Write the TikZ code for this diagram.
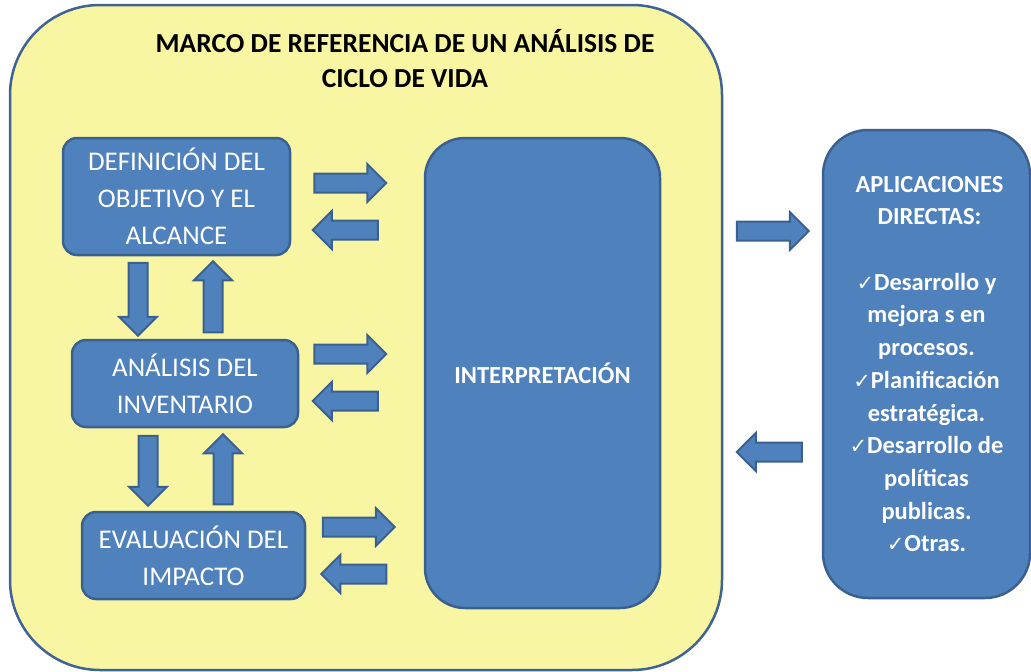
\documentclass[tikz,border=0pt]{standalone}
\usepackage{fontspec}
\setmainfont{Carlito}
\newfontfamily\checkfont{DejaVu Sans}
\usetikzlibrary{shapes.arrows}
\definecolor{marcofill}{HTML}{F9F6A3}
\definecolor{marcoline}{HTML}{3F6493}
\definecolor{boxfill}{HTML}{4F81BD}
\definecolor{boxline}{HTML}{3A6090}
\tikzstyle{marco}=[rectangle,rounded corners=90pt,draw=marcoline,line width=2.5pt,fill=marcofill,minimum width=712pt,minimum height=665pt]
\tikzstyle{etapa}=[rectangle,rounded corners=14pt,draw=boxline,line width=2.5pt,fill=boxfill,text=white,align=center,inner sep=0pt,font=\fontsize{27}{37}\selectfont]
\tikzstyle{flecha}=[single arrow,draw=boxline,fill=boxfill,line width=2pt,inner xsep=0pt,inner ysep=8.5pt,single arrow head extend=9.5pt,single arrow head indent=0pt]
\newcommand{\visto}{{\checkfont\fontsize{21}{21}\selectfont ✓}}

\begin{document}
\begin{tikzpicture}[x=1pt,y=-1pt]
\useasboundingbox (0,0) rectangle (1031,672);
\node[marco] at (366,337.5) (marco) {};
\node[align=center,font=\bfseries\fontsize{27.5}{35}\selectfont] at (405,59) (titulo) {MARCO DE REFERENCIA DE UN ANÁLISIS DE\\CICLO DE VIDA};
\node[etapa, minimum width=227pt, minimum height=117pt] at (176.5,196.5) (obj) {DEFINICIÓN DEL\\OBJETIVO Y EL\\ALCANCE};
\node[etapa, minimum width=226pt, minimum height=87pt] at (185,383.5) (inv) {ANÁLISIS DEL\\INVENTARIO};
\node[etapa, minimum width=223pt, minimum height=87pt] at (193.5,555.5) (imp) {EVALUACIÓN DEL\\IMPACTO};
\node[etapa, rounded corners=40pt, font=\bfseries\fontsize{24.5}{30}\selectfont, minimum width=235pt, minimum height=470pt] at (542.5,373) (interp) {INTERPRETACIÓN};
\node[etapa, rounded corners=45pt, font=\bfseries\fontsize{24.5}{32.7}\selectfont, minimum width=207pt, minimum height=468pt] at (926.5,364) (apl) {\hspace*{6pt}APLICACIONES\\\hspace*{6pt}DIRECTAS:\\[32.7pt]\visto Desarrollo y\\mejora s en\\procesos.\\\visto Planificación\\estratégica.\\\visto Desarrollo de\\políticas\\publicas.\\\visto Otras.};
\node[flecha, minimum height=72pt] at (345.5,183) (f1) {};
\node[flecha, minimum height=65pt, rotate=180] at (350,230) (g1) {};
\node[flecha, minimum height=72pt] at (345.5,354) (f2) {};
\node[flecha, minimum height=65pt, rotate=180] at (350,401) (g2) {};
\node[flecha, minimum height=72pt] at (354,527) (f3) {};
\node[flecha, minimum height=65pt, rotate=180] at (358.5,574) (g3) {};
\node[flecha, minimum height=73pt, rotate=-90] at (138,294.5) (b1) {};
\node[flecha, minimum height=71pt, rotate=90] at (213,301.5) (s1) {};
\node[flecha, minimum height=70pt, rotate=-90] at (148,466) (b2) {};
\node[flecha, minimum height=70pt, rotate=90] at (223,474) (s2) {};
\node[flecha, minimum height=72pt] at (768,231) (fa) {};
\node[flecha, minimum height=65pt, rotate=180] at (774,452) (ga) {};
\end{tikzpicture}
\end{document}
